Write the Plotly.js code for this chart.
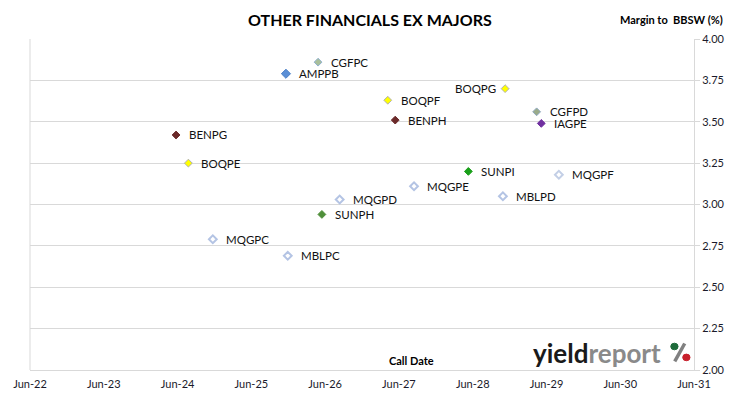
<!DOCTYPE html>
<html>
<head>
<meta charset="utf-8">
<script src="https://cdn.plot.ly/plotly-3.0.1.min.js"></script>
<style>html,body{margin:0;padding:0;background:#fff;}#chart{width:730px;height:399px;}</style>
</head>
<body>
<div id="chart"></div>
<script>
// ---- data ----
const securities = ['CGFPC','AMPPB','BOQPF','BENPH','BENPG','BOQPE','BOQPG','CGFPD','IAGPE','SUNPI','MQGPF','MQGPE','MBLPD','MQGPD','SUNPH','MQGPC','MBLPC'];
const callDates  = ['2026-04-27','2025-11-19','2027-04-07','2027-05-14','2024-05-24','2024-07-24','2028-11-08','2029-04-13','2029-05-06','2028-05-10','2029-08-01','2027-08-15','2028-10-28','2026-08-12','2026-05-16','2024-11-22','2025-11-28'];
const margins    = [3.86, 3.79, 3.63, 3.51, 3.42, 3.25, 3.70, 3.56, 3.49, 3.20, 3.18, 3.11, 3.05, 3.03, 2.94, 2.79, 2.69];
const xTickVals  = ['2022-06-01','2023-06-01','2024-06-01','2025-06-01','2026-06-01','2027-06-01','2028-06-01','2029-06-01','2030-06-01','2031-06-01'];
const xTickText  = ['Jun-22','Jun-23','Jun-24','Jun-25','Jun-26','Jun-27','Jun-28','Jun-29','Jun-30','Jun-31'];
const yTickVals  = [2.00, 2.25, 2.50, 2.75, 3.00, 3.25, 3.50, 3.75, 4.00];

// ---- styles ----
const styles = {
  CGFPC: {fill:'#a9bf9a', line:'#8fb0cf', size:6},
  AMPPB: {fill:'#5b8fd6', line:'#4a7fc6', size:7},
  BOQPF: {fill:'#ffff00', line:'#b0b0b0', size:6},
  BENPH: {fill:'#6b2a2a', line:'#6b2a2a', size:6},
  BENPG: {fill:'#6b2a2a', line:'#6b2a2a', size:6},
  BOQPE: {fill:'#ffff00', line:'#b0b0b0', size:6},
  BOQPG: {fill:'#ffff00', line:'#b0b0b0', size:6},
  CGFPD: {fill:'#9aab8a', line:'#8fa8c0', size:6},
  IAGPE: {fill:'#7030a0', line:'#7030a0', size:6},
  SUNPI: {fill:'#1aa01a', line:'#1aa01a', size:6},
  MQGPF: {fill:'#ffffff', line:'#c3cfe6', size:6},
  MQGPE: {fill:'#ffffff', line:'#b4c4e4', size:6},
  MBLPD: {fill:'#ffffff', line:'#b4c4e4', size:6},
  MQGPD: {fill:'#ffffff', line:'#b4c4e4', size:6},
  SUNPH: {fill:'#4f8f3a', line:'#4f8f3a', size:6},
  MQGPC: {fill:'#ffffff', line:'#b4c4e4', size:6},
  MBLPC: {fill:'#ffffff', line:'#b4c4e4', size:6}
};
const leftLabels = {BOQPG:true};

const FONT = 'Lato, "Open Sans", sans-serif';

const traces = securities.map((s,i)=>({
  type:'scatter', mode:'markers', name:s,
  x:[callDates[i]], y:[margins[i]],
  marker:{symbol:'diamond', size:styles[s].size, color:styles[s].fill,
          line:{color:styles[s].line, width: styles[s].fill==='#ffffff'?2:1}},
  hoverinfo:'name+x+y', cliponaxis:false
}));

const annotations = securities.map((s,i)=>({
  x:callDates[i], y:margins[i], xref:'x', yref:'y',
  text:s, showarrow:false,
  xanchor: leftLabels[s] ? 'right' : 'left',
  xshift: leftLabels[s] ? -7 : 11,
  font:{family:FONT, size:11.5, color:'#111'}
}));

annotations.push(
  {xref:'paper', yref:'paper', x:0.512, y:1.0, yshift:20, text:'<b>OTHER FINANCIALS EX MAJORS</b>', showarrow:false,
   xanchor:'center', yanchor:'middle', font:{family:FONT, size:16, color:'#000'}},
  {xref:'paper', yref:'paper', x:1.047, y:1.0, yshift:20, text:'<b>Margin to  BBSW (%)</b>', showarrow:false,
   xanchor:'right', yanchor:'middle', font:{family:FONT, size:11, color:'#000'}},
  {xref:'paper', yref:'paper', x:0.575, y:0.0, yshift:10, text:'<b>Call Date</b>', showarrow:false,
   xanchor:'center', yanchor:'middle', font:{family:FONT, size:11, color:'#000'}},
  {xref:'paper', yref:'paper', x:0.953, y:0.0, yshift:17, text:'<b><span style="color:#1a1a1a">yield</span><span style="color:#8a8a8a">report</span></b>', showarrow:false,
   xanchor:'right', yanchor:'middle', font:{family:FONT, size:26, color:'#1a1a1a'}}
);

const layout = {
  width:730, height:399,
  margin:{l:30, r:36, t:39, b:29},
  paper_bgcolor:'#ffffff', plot_bgcolor:'#ffffff',
  showlegend:false,
  font:{family:FONT, size:11, color:'#1a1a2a'},
  xaxis:{type:'date', range:[xTickVals[0], xTickVals[xTickVals.length-1]],
         tickmode:'array', tickvals:xTickVals, ticktext:xTickText,
         showgrid:false, zeroline:false, showline:true, linecolor:'#d9d9d9', linewidth:1,
         ticks:'', ticklen:0, ticklabelstandoff:4, tickfont:{family:FONT, size:11, color:'#1a1a2a'}, fixedrange:true},
  yaxis:{side:'right', range:[2,4], tickmode:'array', tickvals:yTickVals, tickformat:'.2f',
         showgrid:true, gridcolor:'#d9d9d9', gridwidth:1, zeroline:false,
         showline:true, linecolor:'#d9d9d9', linewidth:1,
         ticks:'outside', ticklen:5, tickcolor:'#d9d9d9',
         tickfont:{family:FONT, size:11, color:'#1a1a2a'}, fixedrange:true},
  shapes:[
    {type:'line', xref:'paper', yref:'paper', x0:0, x1:0, y0:0, y1:1, line:{color:'#d9d9d9', width:1}},
    {type:'line', xref:'paper', yref:'paper', x0:0.971, y0:0.026, x1:0.986, y1:0.080, line:{color:'#808080', width:3.5}},
    {type:'circle', xref:'paper', yref:'paper', x0:0.965, x1:0.976, y0:0.061, y1:0.081, fillcolor:'#1e6b3a', line:{color:'#1e6b3a', width:1}},
    {type:'circle', xref:'paper', yref:'paper', x0:0.983, x1:0.994, y0:0.028, y1:0.048, fillcolor:'#c8202c', line:{color:'#c8202c', width:1}}
  ],
  annotations:annotations
};

Plotly.newPlot('chart', traces, layout, {staticPlot:true, displayModeBar:false});
</script>
</body>
</html>
